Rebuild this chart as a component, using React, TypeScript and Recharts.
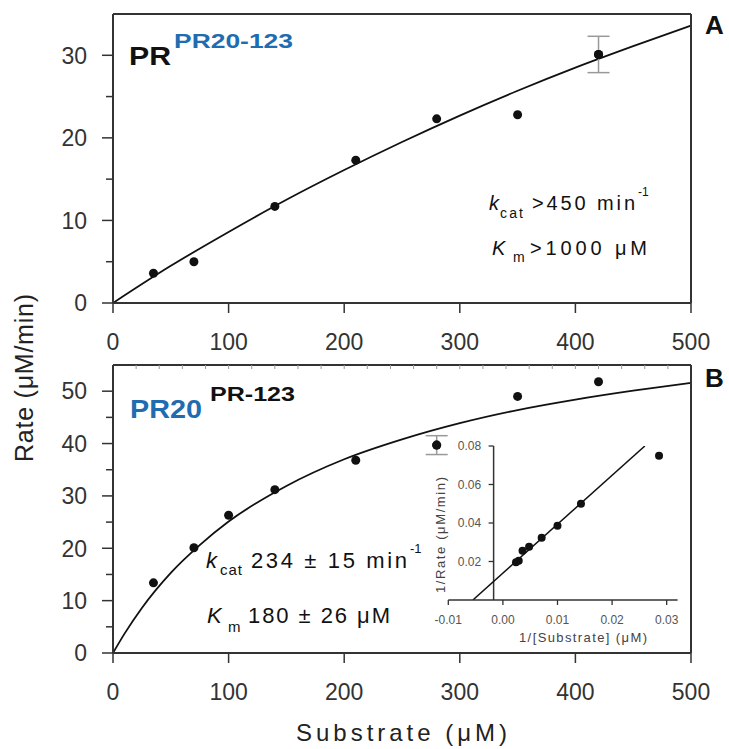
import React from 'react';
import { ComposedChart, Scatter, Line, XAxis, YAxis, ErrorBar, ReferenceLine } from 'recharts';

// panel A: PR with PR20-123 substrate
const substrateA = [35, 70, 140, 210, 280, 350, 420];
const rateA = [3.6, 5.0, 11.7, 17.3, 22.3, 22.8, 30.1];
const errA = [0, 0, 0, 0, 0, 0, 2.2];
const fitXA = [0, 50, 100, 150, 200, 250, 300, 350, 400, 450, 500];
const fitYA = [0, 4.5, 8.6, 12.5, 16.1, 19.5, 22.7, 25.7, 28.5, 31.1, 33.6];

// panel B: PR20 with PR-123 substrate
const substrateB = [35, 70, 100, 140, 210, 280, 350, 420];
const rateB = [13.4, 20.1, 26.3, 31.2, 36.8, 39.7, 49.0, 51.8];
const errB = [0, 0, 0, 0, 0, 1.8, 0, 0];
const fitXB = [0, 10, 25, 50, 75, 100, 150, 200, 250, 300, 350, 400, 450, 500];
const fitYB = [0, 3.7, 8.6, 15.3, 20.6, 25.1, 31.9, 37.0, 40.8, 43.9, 46.4, 48.4, 50.1, 51.6];

// inset: double reciprocal plot
const invS = [0.0286, 0.0143, 0.01, 0.0071, 0.0048, 0.0036, 0.0029, 0.0024];
const invV = [0.075, 0.05, 0.0386, 0.0324, 0.0277, 0.0256, 0.0204, 0.0196];
const lineInvS = [-0.0055, 0.026];
const lineInvV = [0, 0.08];

const xTicks = [0, 100, 200, 300, 400, 500];
const yTicksA = [0, 5, 10, 15, 20, 25, 30];
const yTicksB = [0, 5, 10, 15, 20, 25, 30, 35, 40, 45, 50];
const topTicksB = [20, 40, 60, 80, 100, 120, 140, 160, 180, 200, 220, 240, 260, 280, 300, 320, 340, 360, 380, 400, 420, 440, 460, 480];
const insetXTicks = [-0.01, 0, 0.01, 0.02, 0.03];
const insetYTicks = [0.02, 0.04, 0.06, 0.08];
const insetYAxisAt = -0.0017;

const FONT = "'Liberation Sans', Arial, Helvetica, sans-serif";
const AXIS = '#333';
const BLUE = '#1f6cb0';

const toPoints = (xs: number[], ys: number[]) => xs.map((x, i) => ({ x, y: ys[i] }));
const withErr = (xs: number[], ys: number[], es: number[]) =>
  xs.map((x, i) => ({ x, y: ys[i], err: es[i] })).filter((d) => d.err > 0);

const Dot = (r: number) => (p: any) => <circle cx={p.cx} cy={p.cy} r={r} fill="#111" />;

const MainYTick = (props: any) => {
  const { x, y, payload } = props;
  const major = payload.value % 10 === 0;
  return (
    <g>
      <line x1={x - (major ? 11 : 7)} x2={x} y1={y} y2={y} stroke={AXIS} strokeWidth={1.5} />
      {major && (
        <text x={x - 26} y={y} dy="0.36em" textAnchor="end" fontSize={23} fill="#333" fontFamily={FONT}>
          {payload.value}
        </text>
      )}
    </g>
  );
};

const TopTick = (props: any) => (
  <line x1={props.x} x2={props.x} y1={props.y} y2={props.y + 4} stroke="#999" strokeWidth={1} />
);

function Panel({ pts, errPts, fit, yMax, yTicks, topTicks }: any) {
  const isA = yMax === 35;
  return (
    <ComposedChart width={729} height={isA ? 360 : 400}
      margin={{ top: isA ? 13 : 24, right: 37, bottom: isA ? 56 : 86, left: 112 }}>
      <XAxis type="number" dataKey="x" domain={[0, 500]} ticks={xTicks} allowDataOverflow height={1} interval={0}
        axisLine={{ stroke: AXIS, strokeWidth: 2 }} tickLine={{ stroke: AXIS, strokeWidth: 1.5 }}
        tickSize={10} tickMargin={21} tick={{ fontSize: 23, fill: '#333', fontFamily: FONT }} />
      <XAxis xAxisId="top" orientation="top" type="number" dataKey="x" domain={[0, 500]} allowDataOverflow height={1}
        ticks={topTicks} interval={0} axisLine={{ stroke: AXIS, strokeWidth: 2 }} tickLine={false} tickSize={0} tickMargin={0}
        tick={topTicks.length ? TopTick : false} />
      <YAxis type="number" domain={[0, yMax]} ticks={yTicks} allowDataOverflow width={1} interval={0}
        axisLine={{ stroke: AXIS, strokeWidth: 2 }} tickLine={false} tickSize={0} tickMargin={0} tick={MainYTick} />
      <YAxis yAxisId="right" orientation="right" type="number" domain={[0, yMax]} width={1} tick={false}
        axisLine={{ stroke: AXIS, strokeWidth: 2 }} tickLine={false} />
      <Line data={fit} dataKey="y" type="monotone" stroke="#111" strokeWidth={1.8} dot={false} isAnimationActive={false} />
      <Scatter data={errPts} dataKey="y" shape={Dot(4.5)} isAnimationActive={false}>
        <ErrorBar dataKey="err" direction="y" width={11} stroke="#999" strokeWidth={1.5} isAnimationActive={false} />
      </Scatter>
      <Scatter data={pts} dataKey="y" shape={Dot(4.5)} isAnimationActive={false} />
    </ComposedChart>
  );
}

const INSET_W = 300;
const INSET_M = { top: 16, right: 22.4, bottom: 49, left: 47.3 };
const insetPx = (INSET_W - INSET_M.left - 1 - INSET_M.right) / (0.032 - -0.01);
const insetShift = (insetYAxisAt - -0.01) * insetPx;

const InsetYTick = (props: any) => {
  const { x, y, payload } = props;
  const ax = x + insetShift;
  return (
    <g>
      <line x1={ax - 5} x2={ax} y1={y} y2={y} stroke={AXIS} strokeWidth={1.3} />
      <text x={ax - 12.5} y={y} dy="0.36em" textAnchor="end" fontSize={12} fill="#555" fontFamily={FONT}>
        {payload.value.toFixed(2)}
      </text>
    </g>
  );
};

function Inset() {
  return (
    <ComposedChart width={INSET_W} height={220} margin={INSET_M}>
      <XAxis type="number" dataKey="x" domain={[-0.01, 0.032]} ticks={insetXTicks} allowDataOverflow height={1} interval={0}
        axisLine={{ stroke: AXIS, strokeWidth: 1.5 }} tickLine={{ stroke: AXIS, strokeWidth: 1.3 }}
        tickSize={5} tickMargin={10.5} tickFormatter={(v: number) => v.toFixed(2)}
        tick={{ fontSize: 12, fill: '#555', fontFamily: FONT }} />
      <YAxis type="number" domain={[0, 0.08]} ticks={insetYTicks} allowDataOverflow width={1} interval={0}
        axisLine={false} tickLine={false} tickSize={0} tickMargin={0} tick={InsetYTick} />
      <ReferenceLine x={insetYAxisAt} stroke={AXIS} strokeWidth={1.5} />
      <Line data={toPoints(lineInvS, lineInvV)} dataKey="y" type="linear" stroke="#111" strokeWidth={1.5}
        dot={false} isAnimationActive={false} />
      <Scatter data={toPoints(invS, invV)} dataKey="y" shape={Dot(4)} isAnimationActive={false} />
    </ComposedChart>
  );
}

const T = ({ x, y, s, len, bold, italic, fill = '#111', children, rot, stretch }: any) => (
  <text x={x} y={y} fontSize={s} fontFamily={FONT} fontWeight={bold ? 'bold' : 'normal'}
    fontStyle={italic ? 'italic' : 'normal'} fill={fill} textLength={len}
    lengthAdjust={len ? (stretch ? 'spacingAndGlyphs' : 'spacing') : undefined}
    transform={rot ? `rotate(-90 ${x} ${y})` : undefined}>
    {children}
  </text>
);

export default function App() {
  return (
    <div style={{ position: 'relative', width: 729, height: 749, background: '#fff', overflow: 'hidden' }}>
      <style>{'body{margin:0}'}</style>
      <div style={{ position: 'absolute', left: 0, top: 0 }}>
        <Panel pts={toPoints(substrateA, rateA)} errPts={withErr(substrateA, rateA, errA)}
          fit={toPoints(fitXA, fitYA)} yMax={35} yTicks={yTicksA} topTicks={[]} />
      </div>
      <div style={{ position: 'absolute', left: 0, top: 340 }}>
        <Panel pts={toPoints(substrateB, rateB)} errPts={withErr(substrateB, rateB, errB)}
          fit={toPoints(fitXB, fitYB)} yMax={55} yTicks={yTicksB} topTicks={topTicksB} />
      </div>
      <div style={{ position: 'absolute', left: 400, top: 430 }}>
        <Inset />
      </div>
      <svg width={729} height={749} style={{ position: 'absolute', left: 0, top: 0, pointerEvents: 'none' }}>
        <T x={705} y={34} s={26} bold>A</T>
        <T x={705} y={387} s={26} bold>B</T>

        <T x={129} y={65} s={26} bold len={42} stretch>PR</T>
        <T x={174} y={48} s={20} bold len={119} stretch fill={BLUE}>PR20-123</T>
        <T x={130} y={418} s={26} bold len={72} stretch fill={BLUE}>PR20</T>
        <T x={210} y={401} s={20} bold len={85} stretch>PR-123</T>

        <T x={489} y={210} s={20} italic>k</T>
        <T x={500} y={218} s={14} len={23}>cat</T>
        <T x={532} y={210} s={20} len={103}>&gt;450 min</T>
        <T x={638} y={196} s={12}>-1</T>
        <T x={492} y={255} s={20} italic>K</T>
        <T x={513} y={262} s={14}>m</T>
        <T x={530} y={255} s={20} len={117}>&gt;1000 μM</T>

        <T x={206} y={568} s={22} italic>k</T>
        <T x={220} y={575} s={15} len={22}>cat</T>
        <T x={251} y={568} s={22} len={156}>234 ± 15 min</T>
        <T x={410} y={553} s={13}>-1</T>
        <T x={207} y={623} s={22} italic>K</T>
        <T x={228} y={632} s={15}>m</T>
        <T x={248} y={623} s={22} len={142}>180 ± 26 μM</T>

        <T x={33} y={462} s={25} len={168} rot fill="#222">Rate (μM/min)</T>
        <T x={296} y={741} s={24} len={211} fill="#222">Substrate (μM)</T>
        <T x={445} y={593} s={13} len={116} rot fill="#444">1/Rate (μM/min)</T>
        <T x={519} y={642} s={13} len={128} fill="#444">1/[Substrate] (μM)</T>
      </svg>
    </div>
  );
}
